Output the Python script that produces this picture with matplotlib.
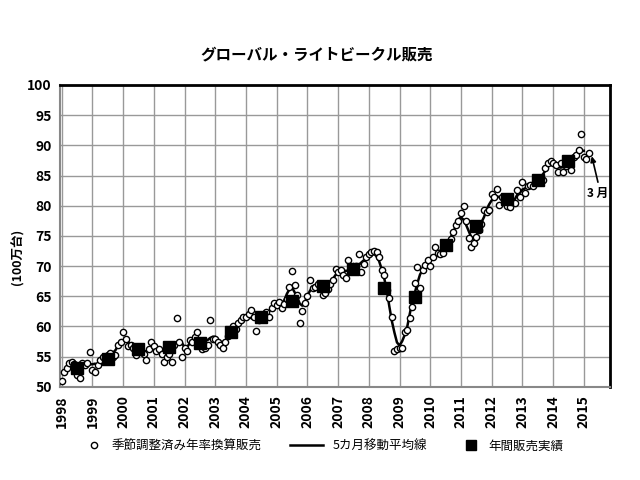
import numpy as np
import pandas as pd
import matplotlib
matplotlib.use("Agg")
import matplotlib.pyplot as plt

plt.rcParams['font.family'] = ['Noto Sans CJK JP', 'DejaVu Sans']

# seasonally adjusted annual rate, monthly (100万台)
saar = {
    1998: [51.0, 52.5, 53.2, 54.0, 54.2, 53.8, 52.0, 51.4, 54.0, 53.6, 54.0, 55.8],
    1999: [52.8, 52.5, 53.6, 54.5, 55.0, 54.8, 55.3, 55.6, 55.0, 55.3, 57.0, 57.5],
    2000: [59.1, 58.0, 56.8, 57.0, 56.5, 55.3, 56.6, 56.0, 55.5, 54.5, 56.2, 57.5],
    2001: [56.8, 56.0, 56.3, 55.4, 54.1, 55.0, 55.5, 54.2, 57.0, 61.4, 57.5, 55.0],
    2002: [56.5, 56.0, 57.8, 57.5, 58.3, 59.1, 57.3, 56.3, 56.5, 57.0, 61.0, 58.0],
    2003: [58.0, 57.5, 57.0, 56.5, 57.5, 58.5, 59.0, 60.0, 59.6, 60.6, 61.0, 61.5],
    2004: [61.5, 62.0, 62.7, 61.5, 59.2, 61.0, 61.8, 62.0, 62.4, 61.5, 63.0, 63.9],
    2005: [63.5, 64.0, 63.0, 63.8, 64.5, 66.6, 69.2, 66.8, 65.2, 60.6, 62.5, 63.9],
    2006: [65.0, 67.7, 66.4, 66.6, 67.0, 66.6, 65.2, 65.6, 66.2, 67.0, 67.7, 69.6],
    2007: [69.0, 69.4, 68.5, 68.0, 71.0, 69.2, 69.6, 70.0, 72.0, 69.0, 70.3, 71.5],
    2008: [72.0, 72.3, 72.5, 72.3, 71.5, 69.4, 68.5, 66.0, 64.7, 61.6, 56.0, 56.2],
    2009: [56.5, 56.5, 59.1, 59.4, 61.4, 63.3, 67.2, 69.9, 66.3, 69.4, 70.2, 71.0],
    2010: [70.0, 71.5, 73.2, 72.2, 72.0, 72.2, 73.5, 73.5, 74.5, 75.7, 76.8, 77.4],
    2011: [78.8, 80.0, 77.5, 74.7, 73.2, 73.8, 74.9, 76.0, 77.0, 79.3, 79.0, 79.3],
    2012: [82.0, 81.5, 82.7, 80.1, 81.5, 81.3, 80.0, 79.8, 80.7, 80.5, 82.6, 81.5],
    2013: [83.9, 82.1, 83.3, 83.5, 83.3, 84.0, 84.5, 83.9, 84.3, 86.3, 87.1, 87.4],
    2014: [87.1, 86.8, 85.6, 87.0, 85.6, 86.5, 87.5, 85.9, 88.0, 88.4, 89.2, 91.8],
    2015: [88.0, 87.7, 88.8],
}

# annual sales
years = list(range(1998, 2015))
annual = [53.1, 54.6, 56.3, 56.6, 57.3, 59.1, 61.6, 64.2, 66.7, 69.5,
          66.4, 64.9, 73.5, 76.7, 81.1, 84.3, 87.4]

xm, ym = [], []
for y, vals in saar.items():
    for m, v in enumerate(vals):
        xm.append(y + m / 12)
        ym.append(v)
ma5 = pd.Series(ym).rolling(5, center=True).mean()

fig = plt.figure(figsize=(6.4, 4.8), dpi=100)
ax = fig.add_axes([0.094, 0.194, 0.859, 0.629])

ax.plot(xm, ma5, color='black', lw=1.8, zorder=3)
ax.plot(xm, ym, 'o', ms=4.5, mfc='white', mec='black', mew=1.0, zorder=4)
ax.plot(np.array(years) + 0.5, annual, 's', ms=9, color='black', zorder=5)

ax.set_xlim(1997.95, 2015.85)
ax.set_ylim(50, 100)
ax.set_xticks(range(1998, 2016))
ax.set_xticklabels([str(y) for y in range(1998, 2016)], rotation=90,
                   fontweight='bold', fontsize=10)
ax.set_yticks(range(50, 101, 5))
ax.set_yticklabels([str(v) for v in range(50, 101, 5)], fontweight='bold', fontsize=10)
ax.tick_params(length=0, pad=6)
ax.grid(True, color='#999999', lw=1)
ax.set_axisbelow(True)
for s in ['top', 'right']:
    ax.spines[s].set_color('black')
    ax.spines[s].set_linewidth(2)
for s in ['left', 'bottom']:
    ax.spines[s].set_color('#888888')
    ax.spines[s].set_linewidth(1.5)

fig.text(18 / 640, 1 - 257 / 480, '(100万台)', rotation=90, ha='center', va='center',
         fontsize=9, fontweight='bold')

# "3月" marker for the latest month
ax.annotate('', xy=(2015.26, 88.2), xytext=(2015.46, 83.9),
            arrowprops=dict(arrowstyle='-|>', color='black', lw=1.2,
                            mutation_scale=8, shrinkA=0, shrinkB=0))
ax.text(2015.46, 82.0, '3 月', ha='center', va='center', fontsize=8.5, fontweight='bold')

fig.text(0.495, 0.8875, 'グローバル・ライトビークル販売', ha='center', va='center',
         fontsize=11.2, fontweight='bold')

h1, = ax.plot([], [], 'o', ms=4.5, mfc='white', mec='black', mew=1.0)
h2, = ax.plot([], [], color='black', lw=1.8)
h3, = ax.plot([], [], 's', ms=7, color='black')
leg_kw = dict(frameon=False, fontsize=9, loc='center left', borderpad=0,
              borderaxespad=0, handletextpad=0.85)
l1 = fig.legend([h1], ['季節調整済み年率換算販売'], bbox_to_anchor=(88 / 640, 0.071),
                handlelength=1.0, **leg_kw)
l2 = fig.legend([h2], ['5カ月移動平均線'], bbox_to_anchor=(290 / 640, 0.071),
                handlelength=2.6, **leg_kw)
l3 = fig.legend([h3], ['年間販売実績'], bbox_to_anchor=(465 / 640, 0.071),
                handlelength=1.0, **leg_kw)

fig.savefig('out.png', dpi=100)
